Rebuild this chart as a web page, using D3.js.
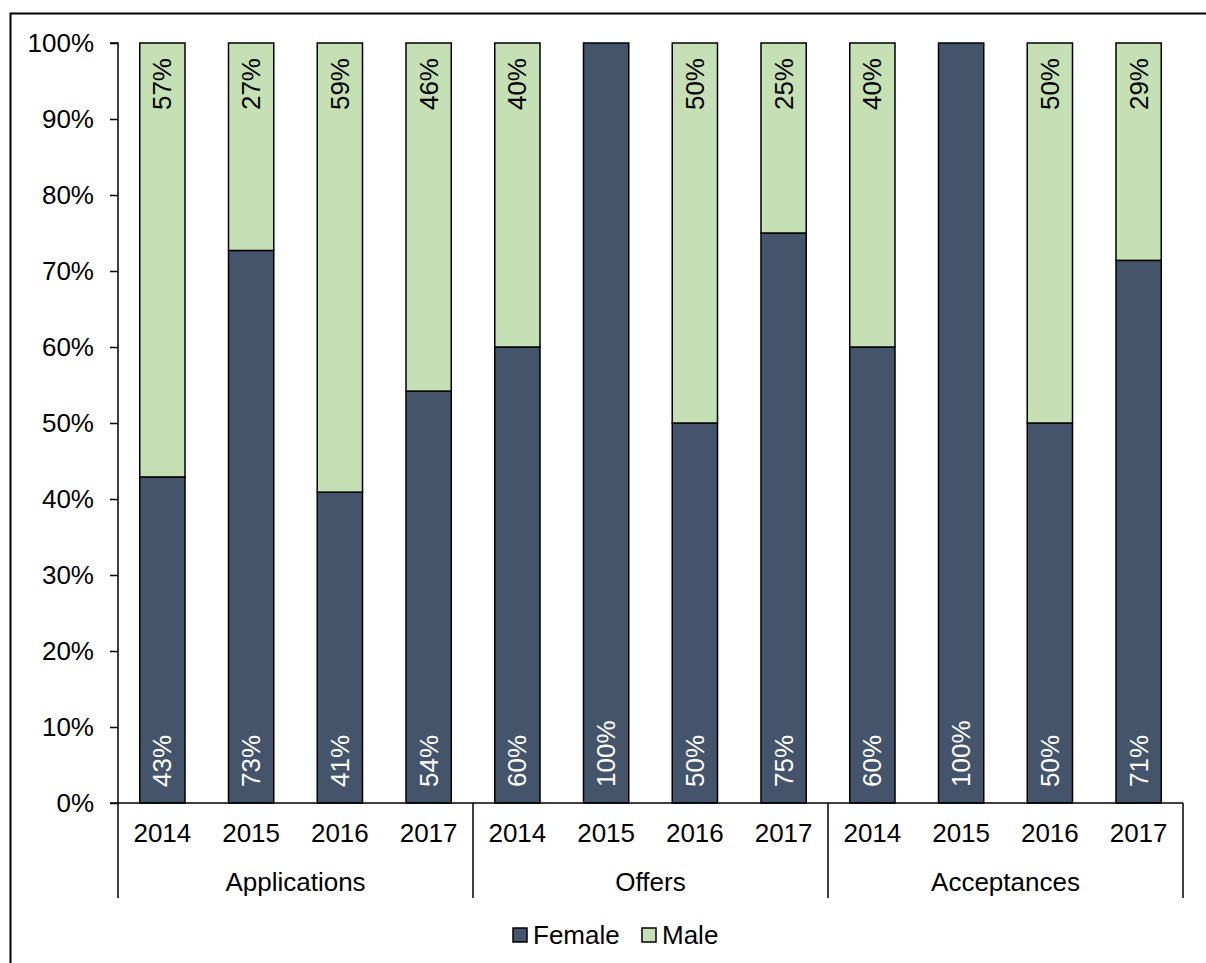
<!DOCTYPE html>
<html>
<head>
<meta charset="utf-8">
<script src="https://cdn.jsdelivr.net/npm/d3@7"></script>
<style>
  html, body { margin: 0; padding: 0; background: #fff; }
  svg { display: block; font-family: "Liberation Sans", Arial, sans-serif; }
</style>
</head>
<body>
<svg id="chart" width="1206" height="963"></svg>
<script>
// Share of female / male per stage and year
const groups = ["Applications", "Offers", "Acceptances"];
const years = ["2014", "2015", "2016", "2017"];
const femaleShare = [
  0.429, 0.727, 0.409, 0.542,   // Applications
  0.60, 1.00, 0.50, 0.75,       // Offers
  0.60, 1.00, 0.50, 0.714       // Acceptances
];
const maleShare = femaleShare.map(v => 1 - v);
const seriesNames = ["Female", "Male"];
const seriesColors = ["#44546A", "#C5E0B4"];
const labelColors = ["#ffffff", "#000000"];
const yTicks = [0, 0.1, 0.2, 0.3, 0.4, 0.5, 0.6, 0.7, 0.8, 0.9, 1.0];

const svg = d3.select("#chart");
const W = 1206, H = 963;
const plot = { left: 118, top: 43, right: 1183, bottom: 803 };
const fontSize = 26;
const fontFamily = "\"Liberation Sans\", Arial, sans-serif";

// frame edges (left and top)
svg.append("path")
  .attr("d", `M10.5,${H}V13.5H${W}`)
  .attr("fill", "none").attr("stroke", "#000").attr("stroke-width", 2);

// one entry per bar
const rows = [];
groups.forEach((g, gi) => years.forEach((y, yi) => {
  const i = gi * years.length + yi;
  rows.push({ key: g + "|" + y, group: g, year: y, Female: femaleShare[i], Male: maleShare[i] });
}));

const x = d3.scaleBand()
  .domain(rows.map(d => d.key))
  .range([plot.left, plot.right])
  .paddingInner(0.49).paddingOuter(0.245);

const y = d3.scaleLinear().domain([0, 1]).range([plot.bottom, plot.top]);

const stacked = d3.stack().keys(seriesNames)(rows);

// bars
const layers = svg.append("g").selectAll("g")
  .data(stacked).join("g")
  .attr("fill", (d, i) => seriesColors[i]);

layers.selectAll("rect")
  .data(d => d.filter(s => s[1] - s[0] > 0))
  .join("rect")
  .attr("x", d => x(d.data.key))
  .attr("width", x.bandwidth())
  .attr("y", d => y(d[1]))
  .attr("height", d => y(d[0]) - y(d[1]))
  .attr("stroke", "#000")
  .attr("stroke-width", 1.5);

// value labels, rotated inside the bars
const fmt = d3.format(".0%");
stacked.forEach((layer, li) => {
  svg.append("g").selectAll("text")
    .data(layer.filter(s => s[1] - s[0] > 0))
    .join("text")
    .attr("transform", d => {
      const cx = x(d.data.key) + x.bandwidth() / 2;
      const cy = li === 0 ? y(d[0]) - 16 : y(d[1]) + 15;
      return `translate(${cx},${cy}) rotate(-90)`;
    })
    .attr("text-anchor", li === 0 ? "start" : "end")
    .attr("dominant-baseline", "central")
    .attr("font-size", fontSize)
    .attr("fill", labelColors[li])
    .text(d => fmt(d[1] - d[0]));
});

// y axis
const yAxis = d3.axisLeft(y).tickValues(yTicks).tickFormat(d3.format(".0%"))
  .tickSize(8).tickPadding(16);
const gy = svg.append("g").attr("transform", `translate(${plot.left},0)`).call(yAxis);
gy.select(".domain").attr("d", `M-8,${plot.top}H0V${plot.bottom}H-8`).attr("stroke-width", 1.5);
gy.selectAll(".tick line").attr("stroke-width", 1.5);
gy.selectAll(".tick text").attr("font-size", fontSize).attr("fill", "#000")
  .attr("font-family", fontFamily);

// x axis: year labels
const xAxis = d3.axisBottom(x).tickSize(0).tickPadding(21).tickFormat(k => k.split("|")[1]);
const gx = svg.append("g").attr("transform", `translate(0,${plot.bottom})`).call(xAxis);
gx.select(".domain").attr("d", `M${plot.left},0H${plot.right}`).attr("stroke-width", 1.5);
gx.selectAll(".tick text").attr("font-size", fontSize).attr("fill", "#000")
  .attr("font-family", fontFamily);

// group separators and group labels
const groupSpan = g => {
  const keys = rows.filter(r => r.group === g).map(r => r.key);
  const step = x.step();
  const x0 = x(keys[0]) - x.paddingOuter() * step;
  const x1 = x(keys[keys.length - 1]) + x.bandwidth() + x.paddingOuter() * step;
  return [x0, x1];
};
const bounds = [];
groups.forEach((g, gi) => {
  const [x0, x1] = groupSpan(g);
  if (gi === 0) bounds.push(x0);
  bounds.push(x1);
  svg.append("text")
    .attr("x", (x0 + x1) / 2).attr("y", plot.bottom + 79)
    .attr("text-anchor", "middle").attr("dominant-baseline", "central")
    .attr("font-size", fontSize).attr("fill", "#000")
    .text(g);
});
svg.append("g").selectAll("line").data(bounds).join("line")
  .attr("x1", d => d).attr("x2", d => d)
  .attr("y1", plot.bottom).attr("y2", plot.bottom + 95)
  .attr("stroke", "#000").attr("stroke-width", 1.5);

// legend
const legendItems = [
  { name: seriesNames[0], color: seriesColors[0], x: 513 },
  { name: seriesNames[1], color: seriesColors[1], x: 642 }
];
const lg = svg.append("g").selectAll("g").data(legendItems).join("g")
  .attr("transform", d => `translate(${d.x},928)`);
lg.append("rect").attr("width", 14).attr("height", 14)
  .attr("fill", d => d.color).attr("stroke", "#000").attr("stroke-width", 1.5);
lg.append("text").attr("x", 20).attr("y", 7)
  .attr("dominant-baseline", "central").attr("font-size", fontSize).attr("fill", "#000")
  .text(d => d.name);
</script>
</body>
</html>
